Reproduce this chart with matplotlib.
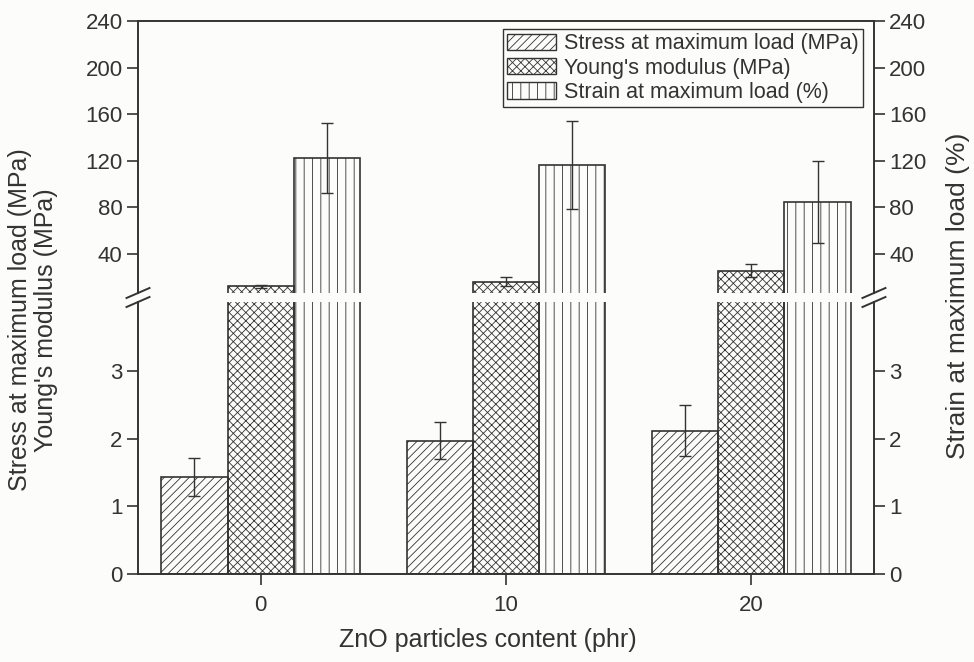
# Propiedades mecánicas vs contenido de ZnO (eje Y con corte)

import matplotlib.pyplot as plt
from matplotlib.lines import Line2D
from matplotlib.patches import Patch

# Datos
content = [0, 10, 20]
stress = [1.44, 1.97, 2.12]
stress_err = [0.28, 0.27, 0.38]
young = [12.1, 16.2, 25.8]
young_err = [1.5, 3.8, 5.3]
strain = [122.0, 116.5, 84.5]
strain_err = [30.0, 37.5, 35.0]

plt.rcParams['font.family'] = ['Liberation Sans', 'DejaVu Sans']
plt.rcParams['hatch.linewidth'] = 0.6
dark = '#333333'

fig = plt.figure(figsize=(9.74, 6.62), dpi=100)
fig.patch.set_facecolor('#fcfcfa')
ax_top = fig.add_axes([0.1417, 0.5574, 0.7556, 0.411])
ax_bot = fig.add_axes([0.1417, 0.1329, 0.7556, 0.411])

w = 2.7
x = [c for c in content]
ebar = dict(ecolor=dark, elinewidth=1.0, capsize=4.5, capthick=1.0)
barkw = dict(width=w, color='none', edgecolor=dark, linewidth=1.2)

for ax in (ax_top, ax_bot):
    ax.set_facecolor('none')
    ax.bar([v - w for v in x], stress, hatch='////', **barkw)
    ax.bar(x, young, hatch='xxxx', **barkw)
    ax.bar([v + w for v in x], strain, hatch='||', **barkw)
    ax.set_xlim(-5, 25)
    for s in ax.spines.values():
        s.set_color(dark)
        s.set_linewidth(1.4)
    ax.tick_params(axis='y', which='both', direction='out', length=8, width=1.2,
                   color=dark, labelsize=16, labelcolor=dark, pad=3,
                   left=True, right=True, labelleft=True, labelright=True)

# barras de error
ax_bot.errorbar([v - w for v in x], stress, yerr=stress_err, fmt='none', **ebar)
ax_top.errorbar(x, young, yerr=young_err, fmt='none', **ebar)
ax_top.errorbar([v + w for v in x], strain, yerr=strain_err, fmt='none', **ebar)

ax_top.set_ylim(6.5, 240)
ax_top.set_yticks([40, 80, 120, 160, 200, 240])
ax_top.spines['bottom'].set_visible(False)
ax_top.tick_params(axis='x', bottom=False, labelbottom=False)

ax_bot.set_ylim(0, 4.02)
ax_bot.set_yticks([0, 1, 2, 3])
ax_bot.spines['top'].set_visible(False)
ax_bot.set_xticks(content)
ax_bot.set_xticklabels([str(c) for c in content])
ax_bot.tick_params(axis='x', direction='out', length=8, width=1.2, color=dark,
                   labelsize=16, labelcolor=dark, pad=7)

# marcas de corte
for xs in (0.1417, 0.8973):
    for yb in (0.5574, 0.5438):
        fig.add_artist(Line2D([xs - 11.5 / 974, xs + 11.5 / 974],
                              [yb - 5 / 662, yb + 5 / 662],
                              color=dark, linewidth=1.4))

# leyenda
handles = [Patch(facecolor='none', edgecolor=dark, hatch='////', linewidth=1.0),
           Patch(facecolor='none', edgecolor=dark, hatch='xxxx', linewidth=1.0),
           Patch(facecolor='none', edgecolor=dark, hatch='||', linewidth=1.0)]
labels = ['Stress at maximum load (MPa)', "Young's modulus (MPa)",
          'Strain at maximum load (%)']
leg = ax_top.legend(handles, labels, loc='upper right', bbox_to_anchor=(0.985, 0.97),
                    fontsize=15.5, frameon=True, fancybox=False, edgecolor=dark,
                    framealpha=1, facecolor='#fcfcfa', handlelength=2.3,
                    handleheight=0.8, handletextpad=0.35, labelspacing=0.15,
                    borderpad=0.2, borderaxespad=0)
leg.get_frame().set_linewidth(1.0)
for t in leg.get_texts():
    t.set_color(dark)

# etiquetas
fig.text(33 / 974, 0.517, "Stress at maximum load (MPa)\nYoung's modulus (MPa)",
         rotation=90, ha='center', va='center', multialignment='center',
         fontsize=18, color=dark, linespacing=1.15)
fig.text(958 / 974, 0.553, 'Strain at maximum load (%)', rotation=90,
         ha='center', va='center', fontsize=19, color=dark)
fig.text(0.501, 0.033, 'ZnO particles content (phr)', ha='center', va='center',
         fontsize=18, color=dark)

plt.savefig('out.png', dpi=100, facecolor=fig.get_facecolor())
